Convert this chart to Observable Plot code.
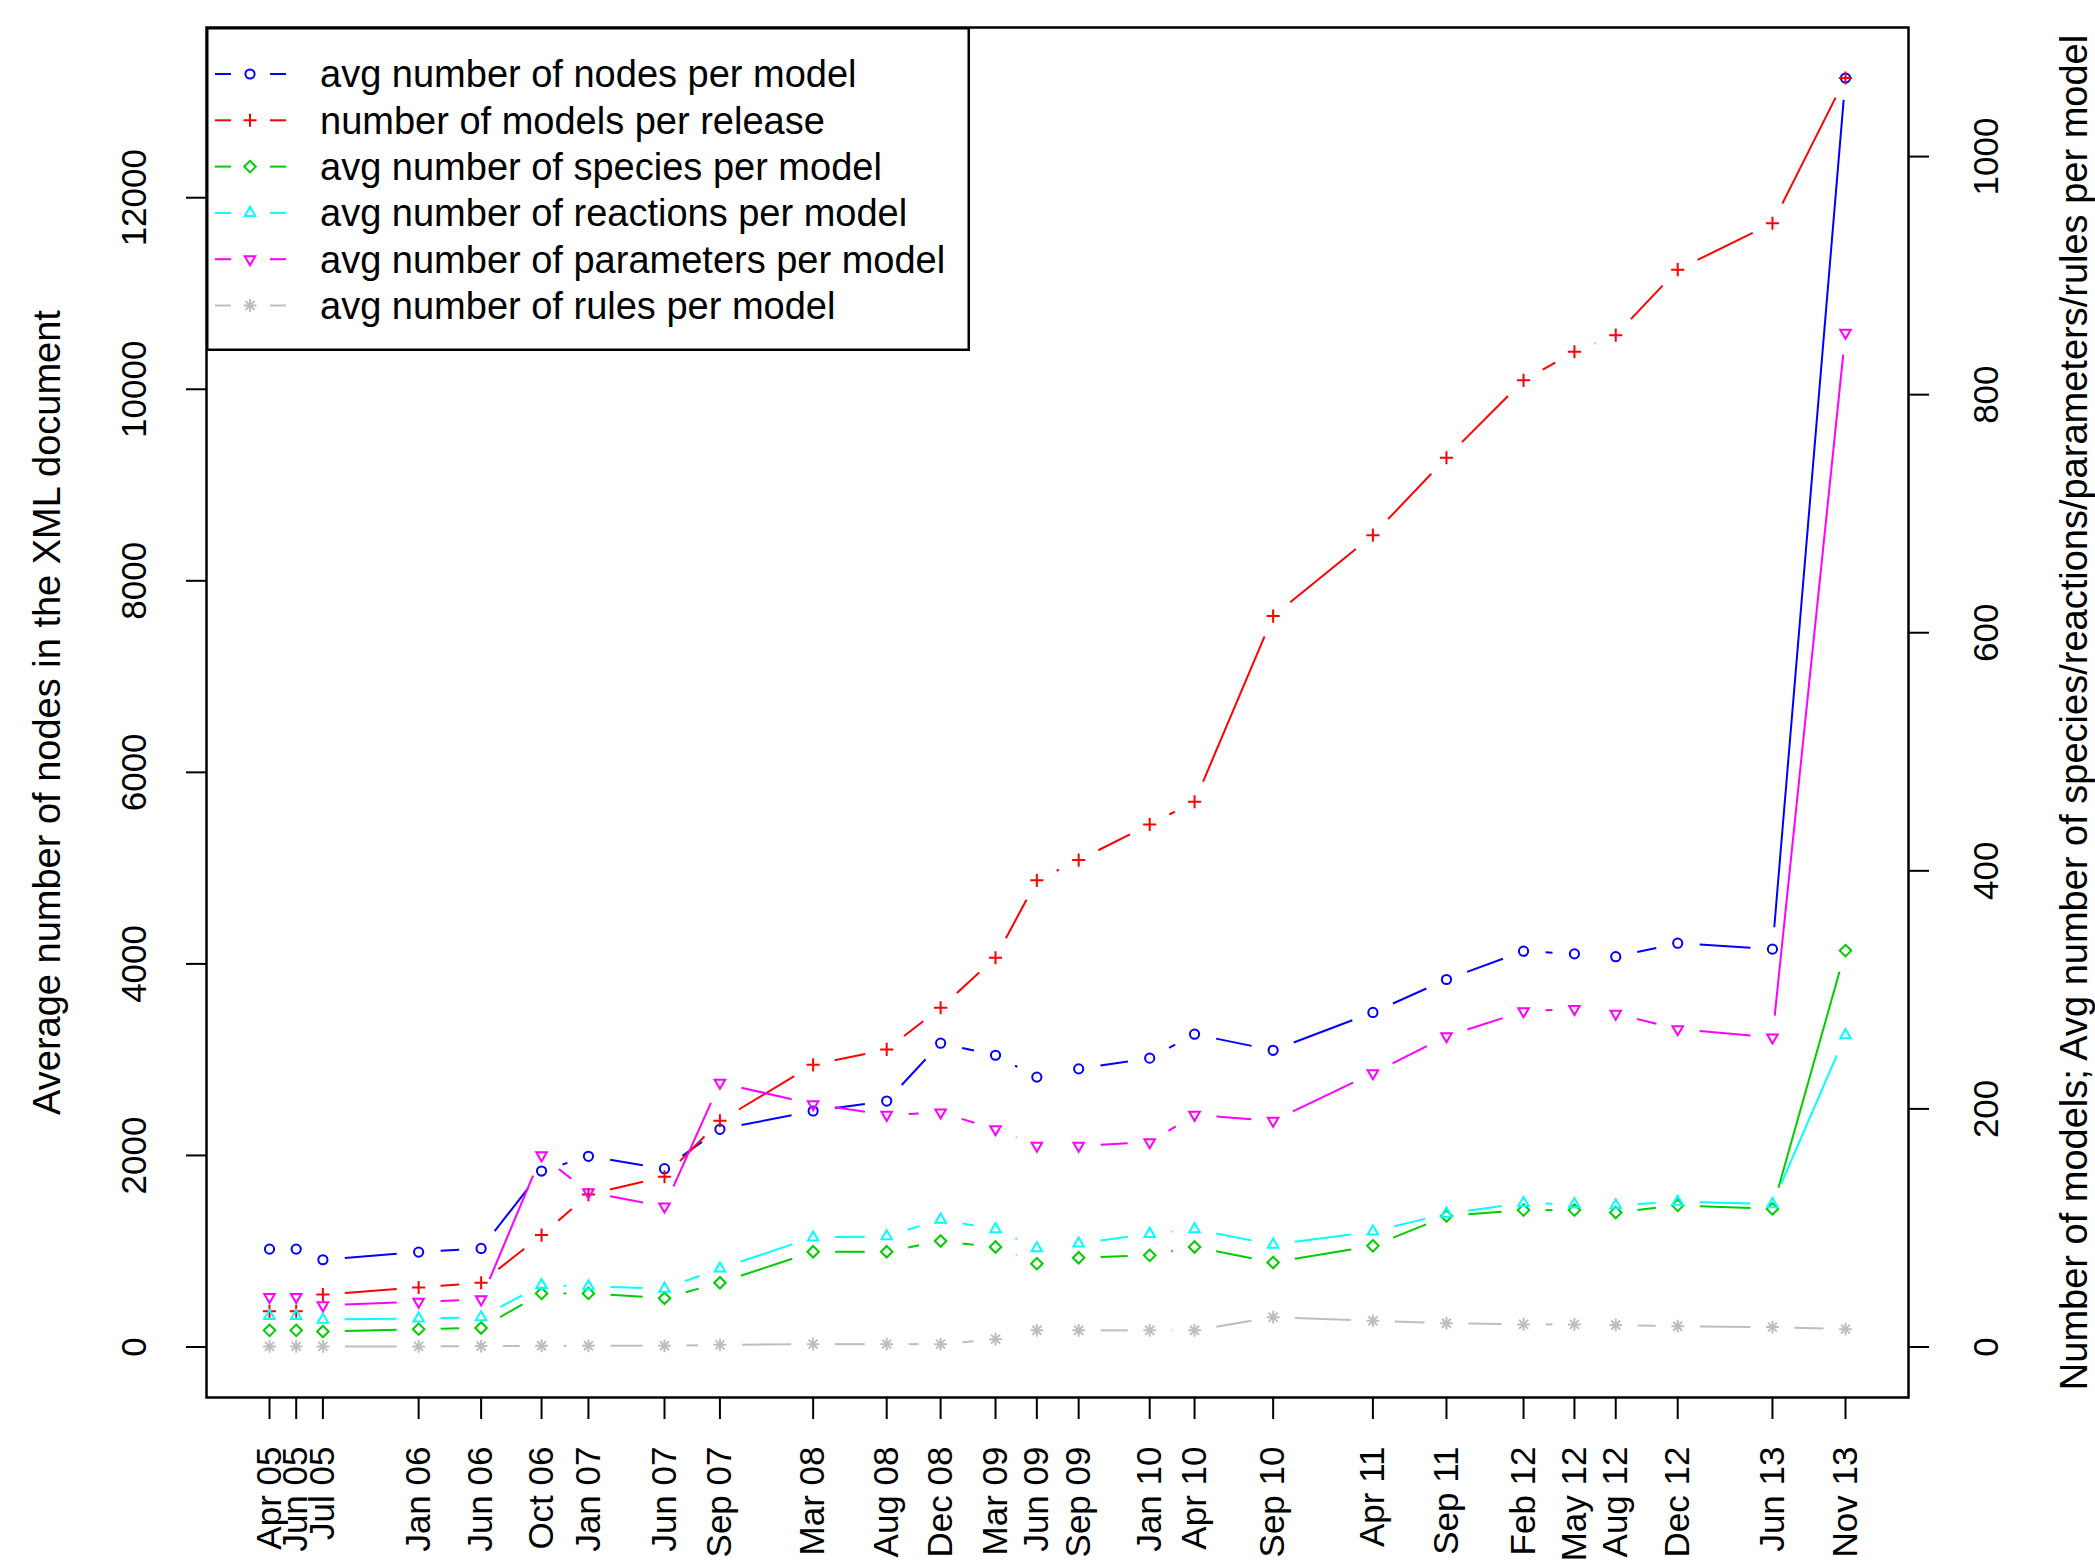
<!DOCTYPE html>
<html><head><meta charset="utf-8">
<script src="https://cdn.jsdelivr.net/npm/d3@7"></script>
<script src="https://cdn.jsdelivr.net/npm/@observablehq/plot@0.6"></script>
<style>
html,body{margin:0;padding:0;background:#fff;}
#wrap{position:relative;width:2095px;height:1563px;font-family:"Liberation Sans",Arial,Helvetica,sans-serif;}
#legend{position:absolute;left:206px;top:27px;}
</style></head><body><div id="wrap"></div>
<script>
// ---- data ----
const releaseLabels = ["Apr 05","Jun 05","Jul 05","Jan 06","Jun 06","Oct 06","Jan 07","Jun 07","Sep 07","Mar 08","Aug 08","Dec 08","Mar 09","Jun 09","Sep 09","Jan 10","Apr 10","Sep 10","Apr 11","Sep 11","Feb 12","May 12","Aug 12","Dec 12","Jun 13","Nov 13"];
const releaseDates = ["2005-04-09","2005-06-01","2005-07-24","2006-01-30","2006-06-03","2006-10-01","2007-01-02","2007-06-02","2007-09-20","2008-03-23","2008-08-16","2008-12-01","2009-03-20","2009-06-10","2009-09-01","2010-01-20","2010-04-19","2010-09-22","2011-04-08","2011-09-01","2012-02-01","2012-05-12","2012-08-02","2012-12-03","2013-06-09","2013-11-01"];
const nodes      = [1022,1022,911,991,1029,1837,1991,1862,2273,2464,2568,3172,3046,2818,2904,3016,3266,3098,3493,3837,4133,4105,4075,4216,4154,13250];
const models     = [30,30,44,50,54,94,128,143,190,237,250,285,327,392,409,439,458,614,682,747,812,836,850,905,944,1066];
const species    = [14,14,13,15,16,45,45,41,54,80,80,89,84,70,75,77,84,71,85,110,115,115,113,119,116,333];
const reactions  = [26,26,23,24,25,52,51,49,66,92,93,107,99,83,87,95,99,86,97,112,121,120,119,122,120,262];
const parameters = [42,42,35,38,40,161,130,118,222,204,195,197,183,169,169,172,195,190,230,261,282,284,280,267,260,852];
const rules      = [0.5,0.5,0.5,0.5,0.8,1,1,1,1.8,2.4,2.4,2.4,6.6,14,14,14,14,25,22,20,19,19,18.5,17.5,16.7,15];
const leftTicks  = [0,2000,4000,6000,8000,10000,12000];
const rightTicks = [0,200,400,600,800,1000];
const seriesLabels = ["avg number of nodes per model","number of models per release","avg number of species per model","avg number of reactions per model","avg number of parameters per model","avg number of rules per model"];
const leftTitle  = "Average number of nodes in the XML document";
const rightTitle = "Number of models; Avg number of species/reactions/parameters/rules per model";

// ---- styling ----
const FONT = "Liberation Sans, Arial, Helvetica, sans-serif";
const FS = 35;      // tick labels
const FS_T = 38;    // axis titles and legend
const asterisk8 = {
  draw(ctx, size) {
    const r = Math.sqrt(size) * 0.6, d = r * Math.SQRT1_2;
    ctx.moveTo(-r, 0); ctx.lineTo(r, 0);
    ctx.moveTo(0, -r); ctx.lineTo(0, r);
    ctx.moveTo(-d, -d); ctx.lineTo(d, d);
    ctx.moveTo(-d, d); ctx.lineTo(d, -d);
  }
};
const k = d3.max(nodes) / d3.max(models); // right axis shares the frame
const dates = releaseDates.map(s => new Date(s + "T00:00:00Z"));
const labelByTime = new Map(dates.map((d, i) => [+d, releaseLabels[i]]));

const series = [
  {values: nodes,      f: 1, color: "#0000FF", symbol: "circle",    d3sym: d3.symbolCircle,    r: 4.6, rotate: 0},
  {values: models,     f: k, color: "#FF0000", symbol: "plus",      d3sym: d3.symbolPlus,      r: 4.3, rotate: 0},
  {values: species,    f: k, color: "#00CD00", symbol: "diamond2",  d3sym: d3.symbolDiamond2,  r: 5.2, rotate: 0},
  {values: reactions,  f: k, color: "#00FFFF", symbol: "triangle2", d3sym: d3.symbolTriangle2, r: 5.0, rotate: 0},
  {values: parameters, f: k, color: "#FF00FF", symbol: "triangle2", d3sym: d3.symbolTriangle2, r: 5.0, rotate: 180},
  {values: rules,      f: k, color: "#BEBEBE", symbol: asterisk8,   d3sym: asterisk8,          r: 6.0, rotate: 0}
].map((s, j) => ({...s, label: seriesLabels[j],
  pts: s.values.map((v, i) => ({date: dates[i], y: v * s.f}))}));

function options(marks) {
  return {
    width: 2095, height: 1563,
    marginLeft: 206, marginRight: 187, marginTop: 27, marginBottom: 166,
    x: {type: "utc", domain: d3.extent(dates), insetLeft: 63, insetRight: 63},
    y: {type: "linear", domain: [0, d3.max(nodes)], insetTop: 50.5, insetBottom: 50.5},
    style: {fontFamily: FONT, fontSize: FS + "px", background: "#fff", color: "#000"},
    marks: [
      Plot.axisX(dates, {anchor: "bottom", tickSize: 22, tickPadding: 27, tickRotate: -90,
        tickFormat: d => labelByTime.get(+d), fontSize: FS, strokeWidth: 2, label: null}),
      Plot.axisY(leftTicks, {anchor: "left", tickSize: 20, tickPadding: 52, tickRotate: -90,
        lineAnchor: "middle", textAnchor: "middle", tickFormat: d3.format("d"), fontSize: FS, strokeWidth: 2, label: null}),
      Plot.axisY(rightTicks.map(v => v * k), {anchor: "right", tickSize: 20, tickPadding: 58, tickRotate: -90,
        lineAnchor: "middle", textAnchor: "middle", tickFormat: d => d3.format("d")(Math.round(d / k)), fontSize: FS, strokeWidth: 2, label: null}),
      Plot.text([leftTitle], {text: d => d, frameAnchor: "left", dx: -159, rotate: -90,
        textAnchor: "middle", lineAnchor: "middle", fontSize: FS_T}),
      Plot.text([rightTitle], {text: d => d, frameAnchor: "right", dx: 166, rotate: -90,
        textAnchor: "middle", lineAnchor: "middle", fontSize: FS_T}),
      ...marks,
      Plot.frame({stroke: "#000", strokeWidth: 2.5})
    ]
  };
}

function dotMarks() {
  return series.map(s => Plot.dot(s.pts, {x: "date", y: "y", symbol: s.symbol, r: s.r,
    rotate: s.rotate, fill: "none", stroke: s.color, strokeWidth: 2}));
}

// first pass: get the scales, then cut R-style (type = "b") gaps around the points
const probe = Plot.plot(options(dotMarks()));
const sx = probe.scale("x"), sy = probe.scale("y");
const GAP = 22;
const marks = [];
for (const s of series) {
  const segs = [];
  for (let i = 0; i < s.pts.length - 1; i++) {
    const a = s.pts[i], b = s.pts[i + 1];
    const x1 = sx.apply(a.date), y1 = sy.apply(a.y), x2 = sx.apply(b.date), y2 = sy.apply(b.y);
    const L = Math.hypot(x2 - x1, y2 - y1);
    if (L <= 2 * GAP) continue;
    const ux = (x2 - x1) / L, uy = (y2 - y1) / L;
    segs.push({xa: sx.invert(x1 + ux * GAP), ya: sy.invert(y1 + uy * GAP),
               xb: sx.invert(x2 - ux * GAP), yb: sy.invert(y2 - uy * GAP)});
  }
  marks.push(Plot.link(segs, {x1: "xa", y1: "ya", x2: "xb", y2: "yb", stroke: s.color, strokeWidth: 2}));
  marks.push(Plot.dot(s.pts, {x: "date", y: "y", symbol: s.symbol, r: s.r,
    rotate: s.rotate, fill: "none", stroke: s.color, strokeWidth: 2}));
}
const chart = Plot.plot(options(marks));
const wrap = document.getElementById("wrap");
wrap.appendChild(chart);

// ---- legend (inside the top-left of the frame) ----
const LW = 764, LH = 324;
const leg = d3.select(wrap).append("svg").attr("id", "legend")
  .attr("width", LW).attr("height", LH)
  .style("font-family", FONT).style("font-size", FS_T + "px");
leg.append("rect").attr("x", 1.25).attr("y", 1.25).attr("width", LW - 2.5).attr("height", LH - 2.5)
  .attr("fill", "#fff").attr("stroke", "#000").attr("stroke-width", 2.5);
series.forEach((s, j) => {
  const cy = 47 + j * 46.3;
  const g = leg.append("g").attr("transform", `translate(0,${cy})`);
  g.append("line").attr("x1", 9).attr("x2", 25).attr("stroke", s.color).attr("stroke-width", 2);
  g.append("line").attr("x1", 64).attr("x2", 80).attr("stroke", s.color).attr("stroke-width", 2);
  g.append("path").attr("d", d3.symbol(s.d3sym, Math.PI * s.r * s.r)())
    .attr("transform", `translate(44,0) rotate(${s.rotate})`)
    .attr("fill", "none").attr("stroke", s.color).attr("stroke-width", 2);
  g.append("text").attr("x", 114).attr("dy", "0.35em").attr("fill", "#000").text(s.label);
});
</script>
</body></html>
